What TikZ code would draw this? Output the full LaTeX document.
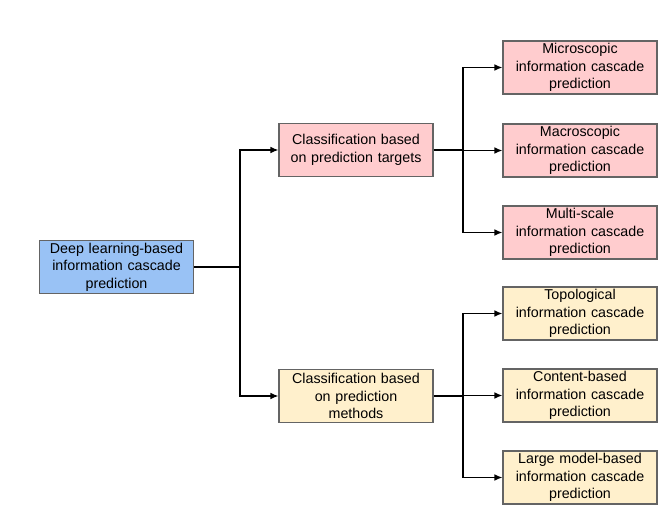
\documentclass[tikz,border=0pt]{standalone}
\usepackage{fontspec}
\setmainfont{Liberation Sans}
\usetikzlibrary{arrows.meta}
\definecolor{rootfill}{RGB}{153,194,245}
\definecolor{pinkfill}{RGB}{255,204,206}
\definecolor{yelfill}{RGB}{255,240,204}
\definecolor{boxline}{RGB}{100,100,100}
\tikzset{
  box/.style={draw=boxline, line width=0.9pt, minimum width=115.5pt, minimum height=39.75pt,
    text width=112pt, align=center, inner sep=0pt, font=\fontsize{10.7pt}{13.2pt}\selectfont},
  rootbox/.style={box, fill=rootfill},
  pinkbox/.style={box, fill=pinkfill},
  yelbox/.style={box, fill=yelfill},
  conn/.style={line width=0.9pt, black},
  arr/.style={conn, -{Latex[length=6pt,width=5pt]}}
}
\begin{document}
\begin{tikzpicture}[x=0.75pt,y=-0.75pt]
\useasboundingbox (0,0) rectangle (665,518);
\node[rootbox] (root) at (116.5,267) {Deep learning-based\\information cascade\\prediction};
\node[pinkbox] (b1) at (356,150) {Classification based\\on prediction targets};
\node[yelbox] (b2) at (356,396) {Classification based\\on prediction\\methods};
\node[pinkbox] (l1) at (580,67.5) {Microscopic\\information cascade\\prediction};
\node[pinkbox] (l2) at (580,150.5) {Macroscopic\\information cascade\\prediction};
\node[pinkbox] (l3) at (580,232.5) {Multi-scale\\information cascade\\prediction};
\node[yelbox] (l4) at (580,313.5) {Topological\\information cascade\\prediction};
\node[yelbox] (l5) at (580,395.5) {Content-based\\information cascade\\prediction};
\node[yelbox] (l6) at (580,477.5) {Large model-based\\information cascade\\prediction};
\coordinate (j0) at (240,267);
\coordinate (j1) at (463,150);
\coordinate (j2) at (463,396);
\draw[conn] (root.east) -- (j0);
\draw[arr] (j0) |- (b1.west);
\draw[arr] (j0) |- (b2.west);
\draw[conn] (b1.east) -- (j1);
\draw[arr] (j1) |- (l1.west);
\draw[arr] (j1) |- (l2.west);
\draw[arr] (j1) |- (l3.west);
\draw[conn] (b2.east) -- (j2);
\draw[arr] (j2) |- (l4.west);
\draw[arr] (j2) |- (l5.west);
\draw[arr] (j2) |- (l6.west);
\end{tikzpicture}
\end{document}
